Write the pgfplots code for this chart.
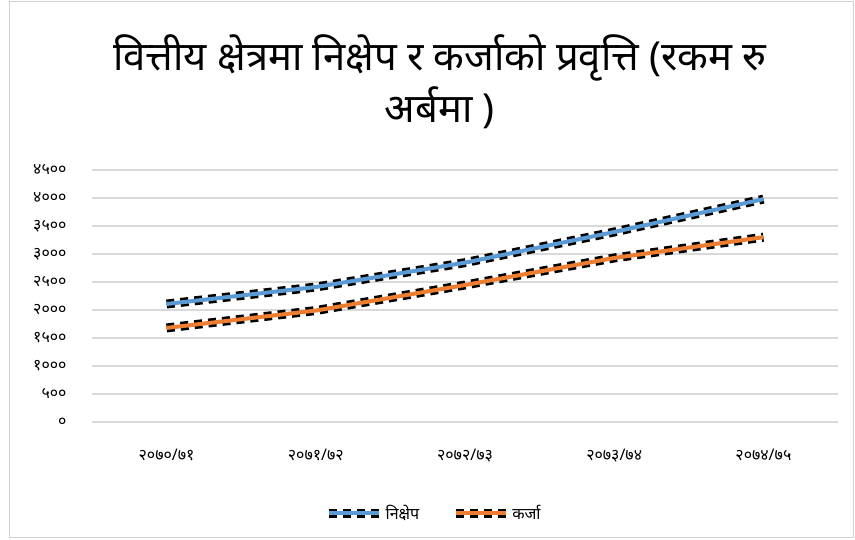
\documentclass[border=0pt]{standalone}
\usepackage{fontspec}
\usepackage{pgfplots}
\pgfplotsset{compat=1.18}
\setmainfont[Script=Devanagari]{Noto Sans}
\newfontfamily\dev[Script=Devanagari]{Noto Sans}
\definecolor{xlblue}{HTML}{5B9BD5}
\definecolor{xlorange}{HTML}{ED7D31}
\begin{document}
\begin{tikzpicture}
\begin{axis}[
  at={(0pt,0pt)}, anchor=south west,
  scale only axis, width=746pt, height=252pt,
  xmin=-0.5, xmax=4.5, ymin=0, ymax=4500,
  axis line style={draw=none},
  xtick={0,1,2,3,4},
  xticklabels={२०७०/७१,२०७१/७२,२०७२/७३,२०७३/७४,२०७४/७५},
  ytick={0,500,...,4500},
  yticklabels={०,५००,१०००,१५००,२०००,२५००,३०००,३५००,४०००,४५००},
  tick style={draw=none},
  ymajorgrids, grid style={gray!30,line width=1.2pt},
  tick label style={font=\dev\fontsize{16}{18}\selectfont},
  xticklabel style={yshift=-24pt},
  yticklabel style={xshift=-22pt},
  legend columns=2,
  legend style={at={(0.458,-0.362)},anchor=center,draw=none,fill=none,font=\dev\fontsize{16}{18}\selectfont,
    /tikz/every even column/.append style={column sep=30pt}},
  legend image code/.code={\draw[#1] (0pt,0pt) -- (50pt,0pt);},
]
\addplot[color=xlblue,line width=4pt,preaction={draw=black,line width=9pt,dash pattern=on 8pt off 6pt}] coordinates {(0,2107) (1,2410) (2,2845) (3,3393) (4,3980)};
\addlegendentry{निक्षेप}
\addplot[color=xlorange,line width=4pt,preaction={draw=black,line width=9pt,dash pattern=on 8pt off 6pt}] coordinates {(0,1680) (1,1990) (2,2446) (3,2929) (4,3300)};
\addlegendentry{कर्जा}
\end{axis}
\draw[gray!35,line width=1pt] (-82pt,-116pt) rectangle (761pt,420pt);
\node[font=\dev\fontsize{40}{52}\selectfont,align=center] at (348pt,340pt) {वित्तीय क्षेत्रमा निक्षेप र कर्जाको प्रवृत्ति (रकम रु\\अर्बमा )};
\pgfresetboundingbox
\path[use as bounding box] (-92pt,-118pt) rectangle (763pt,422pt);
\end{tikzpicture}
\end{document}
